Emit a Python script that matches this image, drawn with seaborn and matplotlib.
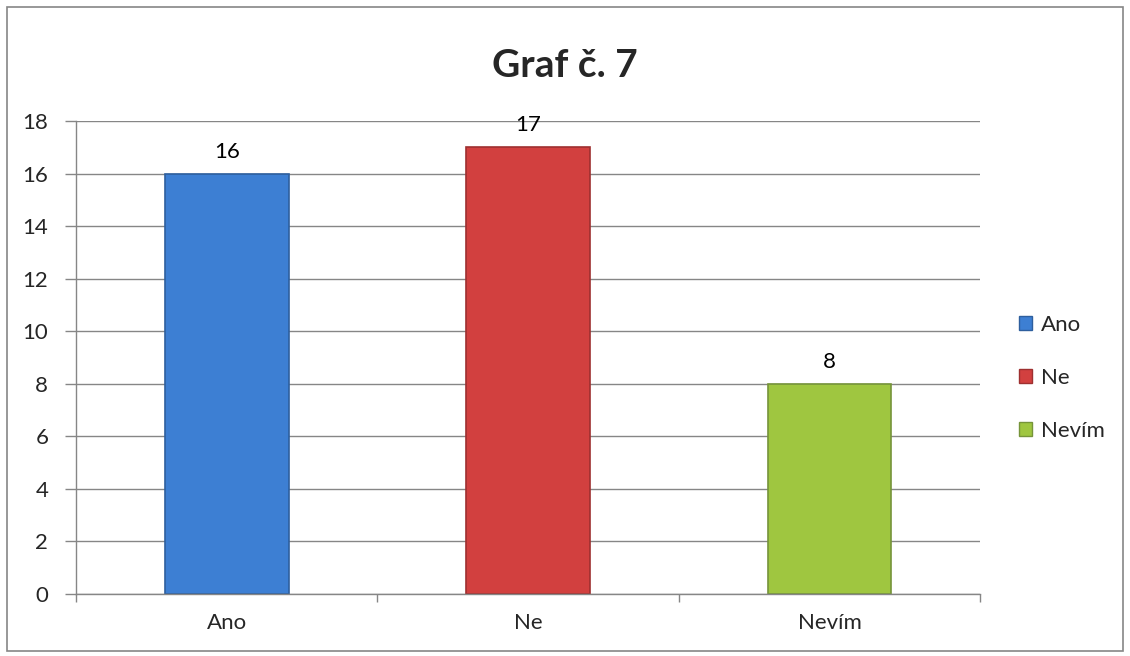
import pandas as pd
import matplotlib.pyplot as plt
import seaborn as sns
from matplotlib.patches import Rectangle, Patch

# data
kategorie = ['Ano', 'Ne', 'Nevím']
pocty = [16, 17, 8]
barvy = ['#3d7fd3', '#d2403f', '#9fc640']
okraje = ['#2e5f9e', '#9e3030', '#76943a']

df = pd.DataFrame({'odpoved': kategorie, 'pocet': pocty})

sns.set_theme(style='white')
plt.rcParams['font.family'] = ['Lato', 'DejaVu Sans']

fig = plt.figure(figsize=(11.3, 6.56), dpi=100)
ax = fig.add_axes([0.0673, 0.0945, 0.8002, 0.721])

sns.barplot(data=df, x='odpoved', y='pocet', hue='odpoved', palette=barvy,
            width=0.41, legend=False, ax=ax, saturation=1)

for patch, ec in zip(ax.patches, okraje):
    patch.set_edgecolor(ec)
    patch.set_linewidth(1.2)

for i, v in enumerate(pocty):
    ax.text(i, v + 0.45, str(v), ha='center', va='bottom', fontsize=16, color='black')

ax.set_ylim(0, 18)
ax.set_xlim(-0.5, 2.5)
ax.set_yticks(range(0, 19, 2))
ax.yaxis.grid(True, color='#868686', linewidth=1)
ax.set_axisbelow(True)
ax.set_xlabel('')
ax.set_ylabel('')

# category boundaries as tick marks, labels in the middle
ax.set_xticks([-0.5, 0.5, 1.5, 2.5])
ax.set_xticklabels([])
ax.set_xticks([0, 1, 2], minor=True)
ax.set_xticklabels(kategorie, minor=True)
ax.tick_params(axis='x', which='major', length=6, color='#868686', width=1, direction='out', bottom=True)
ax.tick_params(axis='x', which='minor', length=0, pad=14, labelsize=16)
ax.tick_params(axis='y', length=8, color='#868686', width=1, direction='out', left=True, pad=12, labelsize=16)

for s in ['top', 'right']:
    ax.spines[s].set_visible(False)
for s in ['left', 'bottom']:
    ax.spines[s].set_color('#868686')
    ax.spines[s].set_linewidth(1)

fig.text(0.5, 0.90, 'Graf č. 7', ha='center', va='center', fontsize=28, fontweight='bold')

handles = [Patch(facecolor=c, edgecolor=e, label=k) for k, c, e in zip(kategorie, barvy, okraje)]
fig.legend(handles=handles, loc='center left', bbox_to_anchor=(0.884, 0.424), frameon=False,
           fontsize=16, handlelength=0.6, handleheight=0.6, handletextpad=0.4, labelspacing=1.5)

fig.patches.append(Rectangle((0.006, 0.008), 0.988, 0.982, transform=fig.transFigure,
                             fill=False, edgecolor='#868686', linewidth=1.2))

fig.savefig('out.png', dpi=100)
